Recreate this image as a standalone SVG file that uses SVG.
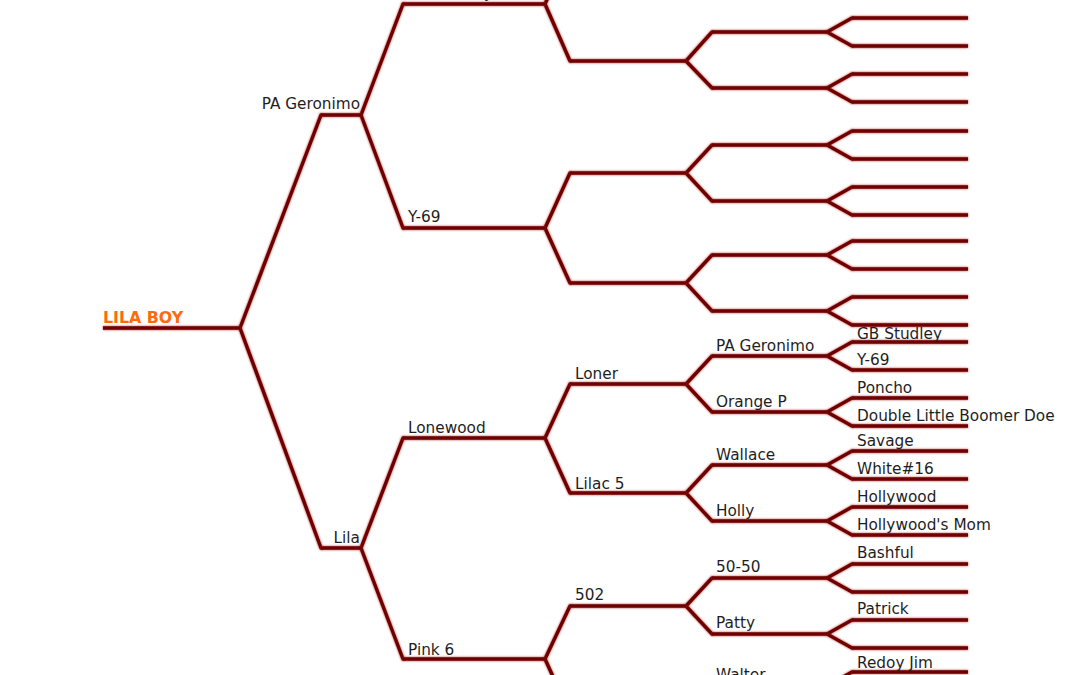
<svg xmlns="http://www.w3.org/2000/svg" width="1080" height="675" viewBox="0 0 1080 675">
<defs>
<filter id="glowG" x="-5%" y="-5%" width="110%" height="110%">
<feGaussianBlur in="SourceAlpha" stdDeviation="1.2" result="b"/>
<feFlood flood-color="#b32222" flood-opacity="0.9"/>
<feComposite in2="b" operator="in" result="g"/>
<feMerge><feMergeNode in="g"/><feMergeNode in="SourceGraphic"/></feMerge>
</filter>
<filter id="glowB" x="-5%" y="-200%" width="110%" height="500%">
<feGaussianBlur in="SourceAlpha" stdDeviation="1.2" result="b"/>
<feFlood flood-color="#b32222" flood-opacity="0.9"/>
<feComposite in2="b" operator="in" result="g"/>
<feMerge><feMergeNode in="g"/><feMergeNode in="SourceGraphic"/></feMerge>
</filter>
</defs>
<style>
.bar{fill:#6e0505;filter:url(#glowB)}
.c path{fill:none;stroke:#6e0505;stroke-width:3.5;stroke-linecap:round;stroke-linejoin:round}
.lb{font-family:"DejaVu Sans",Verdana,sans-serif;font-size:15.3px;fill:#1e1e1e}
.root{font-family:"DejaVu Sans",Verdana,sans-serif;font-size:15.8px;font-weight:bold;fill:#ff6a0d}
.e{text-anchor:end}
</style>
<rect width="1080" height="675" fill="#ffffff"/>

<g id="connectors" class="c" filter="url(#glowG)">
<path d="M240,328 L321,115 M240,328 L321,548"/>
<path d="M361,115 L403,4 M361,115 L403,228 M361,548 L403,438 M361,548 L403,659"/>
<path d="M545,4 L570,-51 M545,4 L570,61 M545,228 L570,173 M545,228 L570,283 M545,438 L570,384 M545,438 L570,493 M545,659 L570,606 M545,659 L570,714"/>
<path d="M686,61 L712,32 M686,61 L712,88 M686,173 L712,145 M686,173 L712,201 M686,283 L712,255 M686,283 L712,311 M686,384 L712,356 M686,384 L712,412 M686,493 L712,465 M686,493 L712,521 M686,606 L712,578 M686,606 L712,634 M686,714 L712,686 M686,714 L712,742"/>
<path d="M827,32 L852,18 M827,32 L852,46 M827,88 L852,74 M827,88 L852,102 M827,145 L852,131 M827,145 L852,159 M827,201 L852,187 M827,201 L852,215 M827,255 L852,241 M827,255 L852,269 M827,311 L852,297 M827,311 L852,325 M827,356 L852,342 M827,356 L852,370 M827,412 L852,398 M827,412 L852,426 M827,465 L852,451 M827,465 L852,479 M827,521 L852,507 M827,521 L852,535 M827,578 L852,564 M827,578 L852,592 M827,634 L852,620 M827,634 L852,648 M827,686 L852,672 M827,686 L852,700"/>
</g>

<g id="n1"><rect class="bar" x="103" y="326.2" width="137" height="3.6"/><text class="root" x="103" y="323">LILA BOY</text></g>
<g id="n2"><rect class="bar" x="321" y="113.2" width="40" height="3.6"/><text class="lb e" x="360" y="109">PA Geronimo</text></g>
<g id="n3"><rect class="bar" x="321" y="546.2" width="40" height="3.6"/><text class="lb e" x="360" y="543">Lila</text></g>
<g id="n4"><rect class="bar" x="403" y="2.2" width="142" height="3.6"/><text class="lb" x="408" y="-2">GB Studley</text></g>
<g id="n5"><rect class="bar" x="403" y="226.2" width="142" height="3.6"/><text class="lb" x="408" y="222">Y-69</text></g>
<g id="n6"><rect class="bar" x="403" y="436.2" width="142" height="3.6"/><text class="lb" x="408" y="433">Lonewood</text></g>
<g id="n7"><rect class="bar" x="403" y="657.2" width="142" height="3.6"/><text class="lb" x="408" y="655">Pink 6</text></g>
<g id="n8"><rect class="bar" x="570" y="-52.8" width="116" height="3.6"/></g>
<g id="n9"><rect class="bar" x="570" y="59.2" width="116" height="3.6"/></g>
<g id="n10"><rect class="bar" x="570" y="171.2" width="116" height="3.6"/></g>
<g id="n11"><rect class="bar" x="570" y="281.2" width="116" height="3.6"/></g>
<g id="n12"><rect class="bar" x="570" y="382.2" width="116" height="3.6"/><text class="lb" x="575" y="379">Loner</text></g>
<g id="n13"><rect class="bar" x="570" y="491.2" width="116" height="3.6"/><text class="lb" x="575" y="489">Lilac 5</text></g>
<g id="n14"><rect class="bar" x="570" y="604.2" width="116" height="3.6"/><text class="lb" x="575" y="600">502</text></g>
<g id="n15"><rect class="bar" x="570" y="712.2" width="116" height="3.6"/></g>
<g id="n18"><rect class="bar" x="712" y="30.2" width="115" height="3.6"/></g>
<g id="n19"><rect class="bar" x="712" y="86.2" width="115" height="3.6"/></g>
<g id="n20"><rect class="bar" x="712" y="143.2" width="115" height="3.6"/></g>
<g id="n21"><rect class="bar" x="712" y="199.2" width="115" height="3.6"/></g>
<g id="n22"><rect class="bar" x="712" y="253.2" width="115" height="3.6"/></g>
<g id="n23"><rect class="bar" x="712" y="309.2" width="115" height="3.6"/></g>
<g id="n24"><rect class="bar" x="712" y="354.2" width="115" height="3.6"/><text class="lb" x="716" y="351">PA Geronimo</text></g>
<g id="n25"><rect class="bar" x="712" y="410.2" width="115" height="3.6"/><text class="lb" x="716" y="407">Orange P</text></g>
<g id="n26"><rect class="bar" x="712" y="463.2" width="115" height="3.6"/><text class="lb" x="716" y="460">Wallace</text></g>
<g id="n27"><rect class="bar" x="712" y="519.2" width="115" height="3.6"/><text class="lb" x="716" y="516">Holly</text></g>
<g id="n28"><rect class="bar" x="712" y="576.2" width="115" height="3.6"/><text class="lb" x="716" y="572">50-50</text></g>
<g id="n29"><rect class="bar" x="712" y="632.2" width="115" height="3.6"/><text class="lb" x="716" y="628">Patty</text></g>
<g id="n30"><rect class="bar" x="712" y="684.2" width="115" height="3.6"/><text class="lb" x="716" y="680">Walter</text></g>
<g id="n36"><rect class="bar" x="852" y="16.2" width="116" height="3.6"/></g>
<g id="n37"><rect class="bar" x="852" y="44.2" width="116" height="3.6"/></g>
<g id="n38"><rect class="bar" x="852" y="72.2" width="116" height="3.6"/></g>
<g id="n39"><rect class="bar" x="852" y="100.2" width="116" height="3.6"/></g>
<g id="n40"><rect class="bar" x="852" y="129.2" width="116" height="3.6"/></g>
<g id="n41"><rect class="bar" x="852" y="157.2" width="116" height="3.6"/></g>
<g id="n42"><rect class="bar" x="852" y="185.2" width="116" height="3.6"/></g>
<g id="n43"><rect class="bar" x="852" y="213.2" width="116" height="3.6"/></g>
<g id="n44"><rect class="bar" x="852" y="239.2" width="116" height="3.6"/></g>
<g id="n45"><rect class="bar" x="852" y="267.2" width="116" height="3.6"/></g>
<g id="n46"><rect class="bar" x="852" y="295.2" width="116" height="3.6"/></g>
<g id="n47"><rect class="bar" x="852" y="323.2" width="116" height="3.6"/></g>
<g id="n48"><rect class="bar" x="852" y="340.2" width="116" height="3.6"/><text class="lb" x="857" y="339">GB Studley</text></g>
<g id="n49"><rect class="bar" x="852" y="368.2" width="116" height="3.6"/><text class="lb" x="857" y="365">Y-69</text></g>
<g id="n50"><rect class="bar" x="852" y="396.2" width="116" height="3.6"/><text class="lb" x="857" y="393">Poncho</text></g>
<g id="n51"><rect class="bar" x="852" y="424.2" width="116" height="3.6"/><text class="lb" x="857" y="421">Double Little Boomer Doe</text></g>
<g id="n52"><rect class="bar" x="852" y="449.2" width="116" height="3.6"/><text class="lb" x="857" y="446">Savage</text></g>
<g id="n53"><rect class="bar" x="852" y="477.2" width="116" height="3.6"/><text class="lb" x="857" y="474">White#16</text></g>
<g id="n54"><rect class="bar" x="852" y="505.2" width="116" height="3.6"/><text class="lb" x="857" y="502">Hollywood</text></g>
<g id="n55"><rect class="bar" x="852" y="533.2" width="116" height="3.6"/><text class="lb" x="857" y="530">Hollywood's Mom</text></g>
<g id="n56"><rect class="bar" x="852" y="562.2" width="116" height="3.6"/><text class="lb" x="857" y="558">Bashful</text></g>
<g id="n57"><rect class="bar" x="852" y="590.2" width="116" height="3.6"/></g>
<g id="n58"><rect class="bar" x="852" y="618.2" width="116" height="3.6"/><text class="lb" x="857" y="614">Patrick</text></g>
<g id="n59"><rect class="bar" x="852" y="646.2" width="116" height="3.6"/></g>
<g id="n60"><rect class="bar" x="852" y="670.2" width="116" height="3.6"/><text class="lb" x="857" y="668">Redoy Jim</text></g>
</svg>
